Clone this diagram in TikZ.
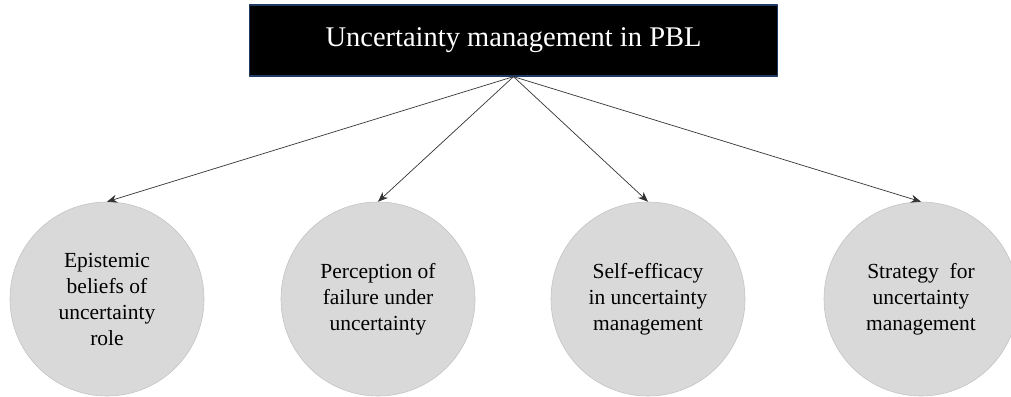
\documentclass[tikz,border=0pt]{standalone}
\usepackage{fontspec}
\setmainfont{Liberation Serif}
\usetikzlibrary{arrows.meta}
\definecolor{navy}{HTML}{1F3864}
\definecolor{bubble}{HTML}{D9D9D9}
\definecolor{rim}{HTML}{C4C4C4}
\tikzset{
    titlebox/.style={draw=navy, line width=1.3pt, fill=black, text=white,
        minimum width=528pt, minimum height=71pt, inner sep=0pt, font=\fontsize{28.5}{33}\selectfont},
    bubblenode/.style={circle, draw=rim, line width=0.6pt, fill=bubble, minimum size=194pt,
        inner sep=0pt, align=center, font=\fontsize{21.5}{26}\selectfont},
    link/.style={-{Stealth[length=10pt,width=8pt]}, line width=0.7pt, draw=black!80}
}
\begin{document}
\begin{tikzpicture}[x=1pt,y=-1pt,line join=round]
    \useasboundingbox (0,0) rectangle (1011,396);
    \node[titlebox] (pbl) at (513.5,40.5) {Uncertainty management in PBL};
    \node[bubblenode] (beliefs) at (107,299) {Epistemic\\beliefs of\\uncertainty\\role};
    \node[bubblenode] (failure) at (378,299) {Perception of\\failure under\\uncertainty};
    \node[bubblenode] (efficacy) at (648,299) {Self-efficacy\\in uncertainty\\management};
    \node[bubblenode] (strategy) at (921,299) {Strategy~ for\\uncertainty\\management};
    % links from the title to each bubble
    \draw[link] (pbl.south) -- (beliefs.north);
    \draw[link] (pbl.south) -- (failure.north);
    \draw[link] (pbl.south) -- (efficacy.north);
    \draw[link] (pbl.south) -- (strategy.north);
\end{tikzpicture}
\end{document}
